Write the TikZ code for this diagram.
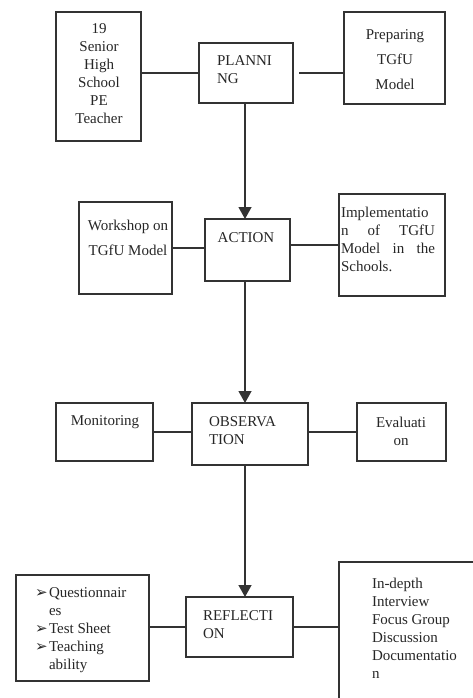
\documentclass[tikz,border=0pt]{standalone}
\usepackage{fontspec}
\setmainfont{Liberation Serif}
\newfontfamily\dingfont{DejaVu Sans}
\usetikzlibrary{positioning,calc,arrows.meta}

\newcommand\arrowbul{\makebox[14pt][l]{\dingfont\fontsize{15}{15}\selectfont ➢}}

\begin{document}
\begin{tikzpicture}[x=1pt,y=-1pt]
    \tikzstyle{every node}=[inner sep=0,outer sep=0]
    \tikzstyle{box}=[draw=black!80,line width=1.3pt,rectangle]
    \tikzstyle{note}=[text=black!85,font=\fontsize{15}{18}\selectfont]
    \tikzstyle{wide}=[note,font=\fontsize{15}{25}\selectfont]
    \tikzstyle{wire}=[draw=black!80,line width=1.3pt]
    \tikzstyle{flow}=[wire,-{Triangle[length=12pt,width=13pt]}]
    {
        \useasboundingbox (0,0) rectangle (473,698);
        \clip (0,0) rectangle (473,698);
        \coordinate (spine) at (245,0);

        % planning row
        \node[box,minimum width=85,minimum height=129] (teacher) at (98.5,76.5) {};
        \node[box,minimum width=94,minimum height=60] (plan) at (246,73) {};
        \node[box,minimum width=101,minimum height=92] (prep) at (394.5,58) {};
        \node[note,align=center] (teachertxt) at (99,74) {19\\Senior\\High\\School\\PE\\Teacher};
        \node[note,align=left,anchor=west] (plantxt) at (217,70) {PLANNI\\NG};
        \node[wide,align=center] (preptxt) at (395,60) {Preparing\\TGfU\\Model};

        % action row
        \node[box,minimum width=93,minimum height=92] (work) at (125.5,248) {};
        \node[box,minimum width=85,minimum height=62] (act) at (247.5,250) {};
        \node[box,minimum width=106,minimum height=102] (impl) at (392,245) {};
        \node[wide,align=center] (worktxt) at (128,237.5) {Workshop on\\TGfU Model};
        \node[note] (acttxt) at (246,238) {ACTION};
        \node[note,align=left,anchor=west] (impltxt) at (341,239.5)
            {Implementatio\\\makebox[94pt][s]{n\hfill of\hfill TGfU}\\\makebox[94pt][s]{Model\hfill in\hfill the}\\Schools.};

        % observation row
        \node[box,minimum width=97,minimum height=58] (mon) at (104.5,432) {};
        \node[box,minimum width=116,minimum height=62] (obs) at (250,434) {};
        \node[box,minimum width=89,minimum height=58] (eval) at (401.5,432) {};
        \node[note] (montxt) at (105,422) {Monitoring};
        \node[note,align=left,anchor=west] (obstxt) at (209,431) {OBSERVA\\TION};
        \node[note,align=center] (evaltxt) at (401,431) {Evaluati\\on};

        % reflection row
        \node[box,minimum width=133,minimum height=106] (instr) at (82.5,628) {};
        \node[box,minimum width=107,minimum height=60] (refl) at (239.5,627) {};
        \node[box,minimum width=141,minimum height=158] (intv) at (409.5,641) {};
        \node[note,align=left,anchor=west] (instrtxt) at (35,630)
            {\arrowbul Questionnair\\\hspace*{14pt}es\\\arrowbul Test Sheet\\\arrowbul Teaching\\\hspace*{14pt}ability};
        \node[note,align=left,anchor=west] (refltxt) at (203,624.5) {REFLECTI\\ON};
        \node[note,align=left,anchor=west] (intvtxt) at (372,628.5)
            {In-depth\\Interview\\Focus Group\\Discussion\\Documentatio\\n};

        % side links
        \path[every edge/.style={wire}]
            (plan.west) edge (plan.west -| teacher.east)
            (plan.east) edge[shorten <=6pt] (plan.east -| prep.west)
            (work.east) edge (work.east -| act.west)
            (impl.west -| act.east) edge (impl.west)
            (mon.east) edge (mon.east -| obs.west)
            (eval.west -| obs.east) edge (eval.west)
            (refl.west) edge (refl.west -| instr.east)
            (refl.east) edge (refl.east -| intv.west);

        % main flow
        \path[every edge/.style={flow}]
            (spine |- plan.south) edge (spine |- act.north)
            (spine |- act.south) edge (spine |- obs.north)
            (spine |- obs.south) edge (spine |- refl.north);
    }
\end{tikzpicture}
\end{document}
